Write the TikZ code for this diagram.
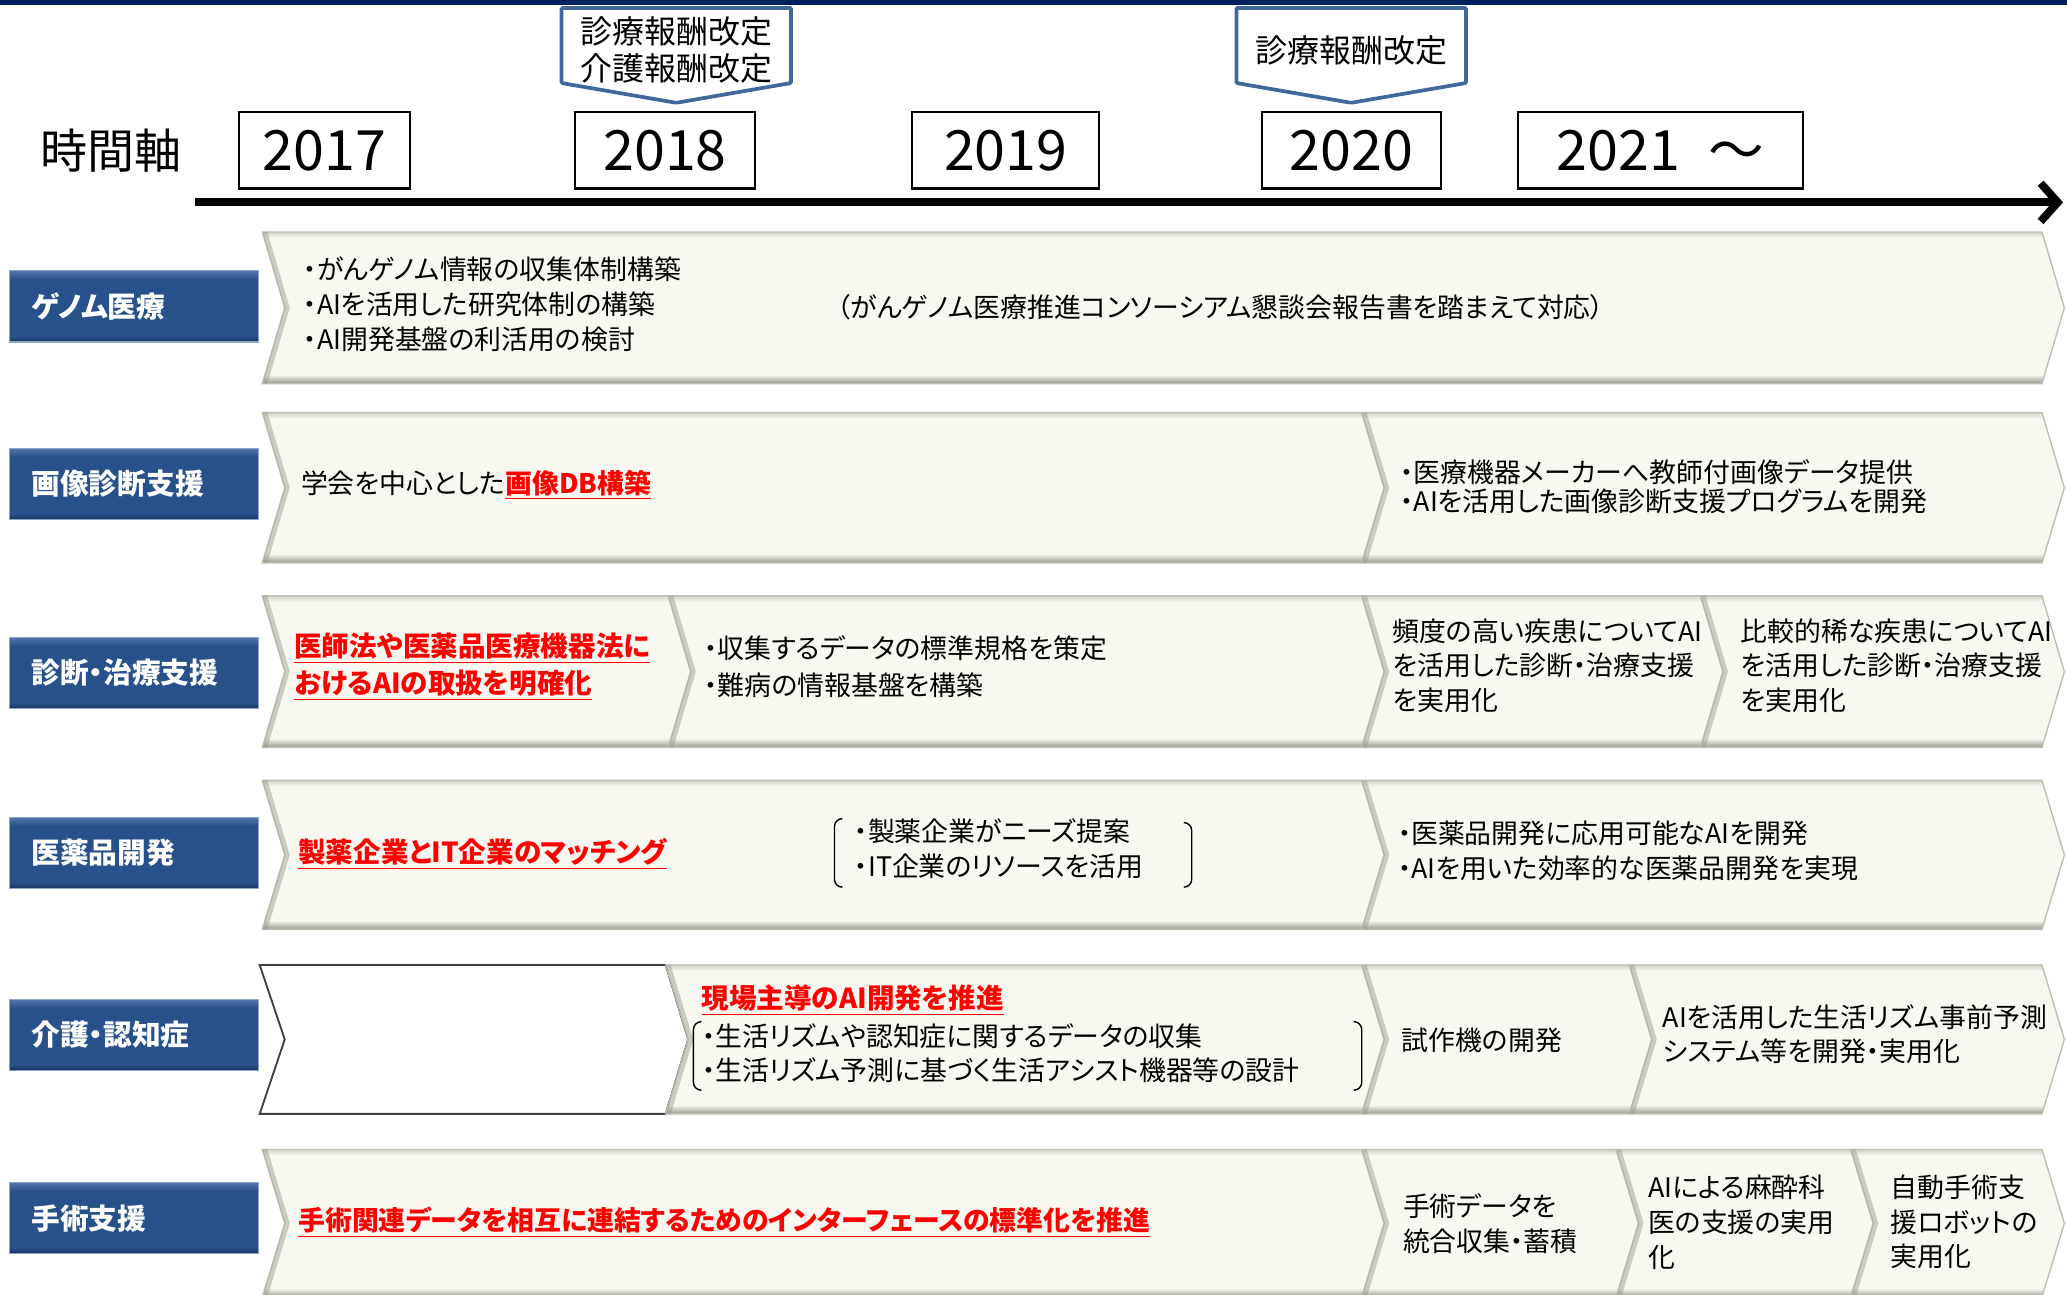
\documentclass[tikz,border=0pt]{standalone}
\usepackage{fontspec}
\newfontfamily\jp{Noto Sans CJK JP}[RawFeature=+palt]
\usetikzlibrary{arrows.meta}

\definecolor{navy}{RGB}{0,32,96}
\definecolor{calloutblue}{RGB}{65,104,154}
\definecolor{labeltop}{RGB}{84,118,170}
\definecolor{labelmid}{RGB}{40,80,138}
\definecolor{labelbot}{RGB}{22,48,92}
\definecolor{labeledge}{RGB}{140,165,200}
\definecolor{cream}{RGB}{249,248,240}
\definecolor{bevtop}{RGB}{212,212,202}
\definecolor{bevbot}{RGB}{150,150,140}
\definecolor{bevedge}{RGB}{190,190,180}
\definecolor{hotred}{RGB}{255,0,0}

\pgfdeclareverticalshading{bandbevel}{100bp}{color(0bp)=(bevbot); color(25bp)=(bevbot); color(28bp)=(cream); color(73bp)=(cream); color(75bp)=(bevtop); color(100bp)=(bevtop)}
\pgfdeclareverticalshading{labelbevel}{100bp}{color(0bp)=(labelbot); color(25bp)=(labelbot); color(29bp)=(labelmid); color(69bp)=(labelmid); color(75bp)=(labeltop); color(100bp)=(labeltop)}

% one chevron piece of a row: left x, right x, top y, bottom y, style
\newcommand{\chev}[5]{%
  \pgfmathsetmacro{\chevmid}{(#3+#4)/2}%
  \path[#5] (#1,#3) -- (#2,#3) -- (#2+17,\chevmid) -- (#2,#4) -- (#1,#4) -- (#1+17,\chevmid) -- cycle;%
  \draw[notchedge] (#1+2,#3) -- (#1+19,\chevmid) -- (#1+2,#4);}

\begin{document}
\begin{tikzpicture}[x=0.02cm, y=-0.02cm,
  yearbox/.style={draw=black, line width=0.9pt, fill=white, minimum height=1.16cm, inner sep=0pt, font=\jp\fontsize{24}{28}\selectfont},
  callout/.style={draw=calloutblue, line width=1.6pt, fill=white, rounded corners=0.5pt},
  calltext/.style={align=center, inner sep=0pt, font=\jp\fontsize{13.8}{16}\selectfont},
  rowlabel/.style={shade, shading=labelbevel, draw=labeledge, line width=0.5pt, anchor=west, minimum height=1.08cm, text width=3.12cm, inner xsep=0.33cm, inner ysep=0pt, align=left, text=white, font=\jp\bfseries\fontsize{12.4}{14}\selectfont},
  band/.style={shade, shading=bandbevel, draw=bevedge, line width=0.6pt},
  blankseg/.style={fill=white, draw=black!75, line width=0.8pt},
  notchedge/.style={draw=bevbot, line width=0.07cm, opacity=0.45},
  body/.style={anchor=west, align=left, inner sep=0pt, font=\jp\fontsize{11.6}{15}\selectfont},
  hotnote/.style={body, text=hotred, font=\jp\bfseries\fontsize{11.9}{16}\selectfont},
  bracket/.style={draw=black, line width=0.6pt, rounded corners=0.12cm}]
\useasboundingbox (0,0) rectangle (1568,982);
\clip (0,0) rectangle (1568,982);
\fill[navy] (0,0) rectangle (1568,4);

% time axis
\node[font=\jp\fontsize{20.3}{24}\selectfont, inner sep=0pt] (axislabel) at (84,114) {時間軸};
\node[yearbox, minimum width=2.6cm] (y2017) at (246,114) {2017};
\node[yearbox, minimum width=2.74cm] (y2018) at (504.5,114) {2018};
\node[yearbox, minimum width=2.84cm] (y2019) at (763,114) {2019};
\node[yearbox, minimum width=2.72cm] (y2020) at (1025,114) {2020};
\node[yearbox, minimum width=4.32cm] (y2021) at (1259.5,114) {2021\enspace～};
\path[callout] (426,6) -- (600,6) -- (600,63) -- (513,78) -- (426,63) -- cycle;
\node[calltext] (rev2018) at (513,38) {診療報酬改定\\介護報酬改定};
\path[callout] (938,6) -- (1112,6) -- (1112,63) -- (1025,78) -- (938,63) -- cycle;
\node[calltext] (rev2020) at (1025,38) {診療報酬改定};
\coordinate (axisstart) at (148,153.5);
\coordinate (axisend) at (1565,153.5);
\draw[line width=0.12cm, -{Straight Barb[length=0.26cm,width=0.58cm]}] (axisstart) -- (axisend);

% genome
\chev{199}{1549}{176}{291}{band}
\node[rowlabel] (genome) at (7,232.5) {ゲノム医療};
\node[body] (genomeA) at (230,231) {・がんゲノム情報の収集体制構築\\・AIを活用した研究体制の構築\\・AI開発基盤の利活用の検討};
\node[body, anchor=center] (genomeB) at (926,233) {（がんゲノム医療推進コンソーシアム懇談会報告書を踏まえて対応）};

% imaging
\chev{199}{1033}{313}{427}{band}
\chev{1033}{1549}{313}{427}{band}
\node[rowlabel] (imaging) at (7,367) {画像診断支援};
\node[body] (imagingA) at (228,368) {学会を中心とした\textcolor{hotred}{\bfseries\underline{画像DB構築}}};
\node[body, font=\jp\fontsize{11.6}{12.5}\selectfont] (imagingB) at (1062,369) {・医療機器メーカーへ教師付画像データ提供\\・AIを活用した画像診断支援プログラムを開発};

% diagnosis
\chev{199}{507}{452}{567}{band}
\chev{507}{1033}{452}{567}{band}
\chev{1033}{1290}{452}{567}{band}
\chev{1290}{1549}{452}{567}{band}
\node[rowlabel] (diagnosis) at (7,510.5) {診断・治療支援};
\node[hotnote] (diagnosisA) at (223,506) {\underline{医師法や医薬品医療機器法に}\\\underline{おけるAIの取扱を明確化}};
\node[body, font=\jp\fontsize{11.6}{16}\selectfont] (diagnosisB) at (534,506) {・収集するデータの標準規格を策定\\・難病の情報基盤を構築};
\node[body] (diagnosisC) at (1056,505) {頻度の高い疾患についてAI\\を活用した診断・治療支援\\を実用化};
\node[body] (diagnosisD) at (1320,505) {比較的稀な疾患についてAI\\を活用した診断・治療支援\\を実用化};

% drug
\chev{199}{1033}{592}{705}{band}
\chev{1033}{1549}{592}{705}{band}
\node[rowlabel] (drug) at (7,647) {医薬品開発};
\node[hotnote] (drugA) at (226,648) {\underline{製薬企業とIT企業のマッチング}};
\node[body] (drugB) at (648,644) {・製薬企業がニーズ提案\\・IT企業のリソースを活用};
\draw[bracket] (639,621) -- (633,621) -- (633,673) -- (639,673);
\draw[bracket] (898,624) -- (904,624) -- (904,673) -- (898,673);
\node[body] (drugC) at (1060,645.5) {・医薬品開発に応用可能なAIを開発\\・AIを用いた効率的な医薬品開発を実現};

% care
\path[blankseg] (197,732) -- (505,732) -- (522,788.5) -- (505,845) -- (197,845) -- (216,788.5) -- cycle;
\chev{505}{1033}{732}{845}{band}
\chev{1033}{1236}{732}{845}{band}
\chev{1236}{1549}{732}{845}{band}
\node[rowlabel] (care) at (7,785) {介護・認知症};
\node[hotnote] (careA) at (532,759) {\underline{現場主導のAI開発を推進}};
\node[body] (careB) at (532,799) {・生活リズムや認知症に関するデータの収集\\・生活リズム予測に基づく生活アシスト機器等の設計};
\draw[bracket] (531,775) -- (526,775) -- (526,827) -- (531,827);
\draw[bracket] (1028,775) -- (1033,775) -- (1033,827) -- (1028,827);
\node[body] (careC) at (1063,789) {試作機の開発};
\node[body] (careD) at (1261,784.5) {AIを活用した生活リズム事前予測\\システム等を開発・実用化};

% surgery
\chev{199}{1033}{872}{984}{band}
\chev{1033}{1226}{872}{984}{band}
\chev{1226}{1404}{872}{984}{band}
\chev{1404}{1549}{872}{984}{band}
\node[rowlabel] (surgery) at (7,924) {手術支援};
\node[hotnote, font=\jp\bfseries\fontsize{11.6}{16}\selectfont] (surgeryA) at (226,927) {\underline{手術関連データを相互に連結するためのインターフェースの標準化を推進}};
\node[body] (surgeryB) at (1064,928) {手術データを\\統合収集・蓄積};
\node[body] (surgeryC) at (1250,927) {AIによる麻酔科\\医の支援の実用\\化};
\node[body] (surgeryD) at (1434,927) {自動手術支\\援ロボットの\\実用化};
\end{tikzpicture}
\end{document}
